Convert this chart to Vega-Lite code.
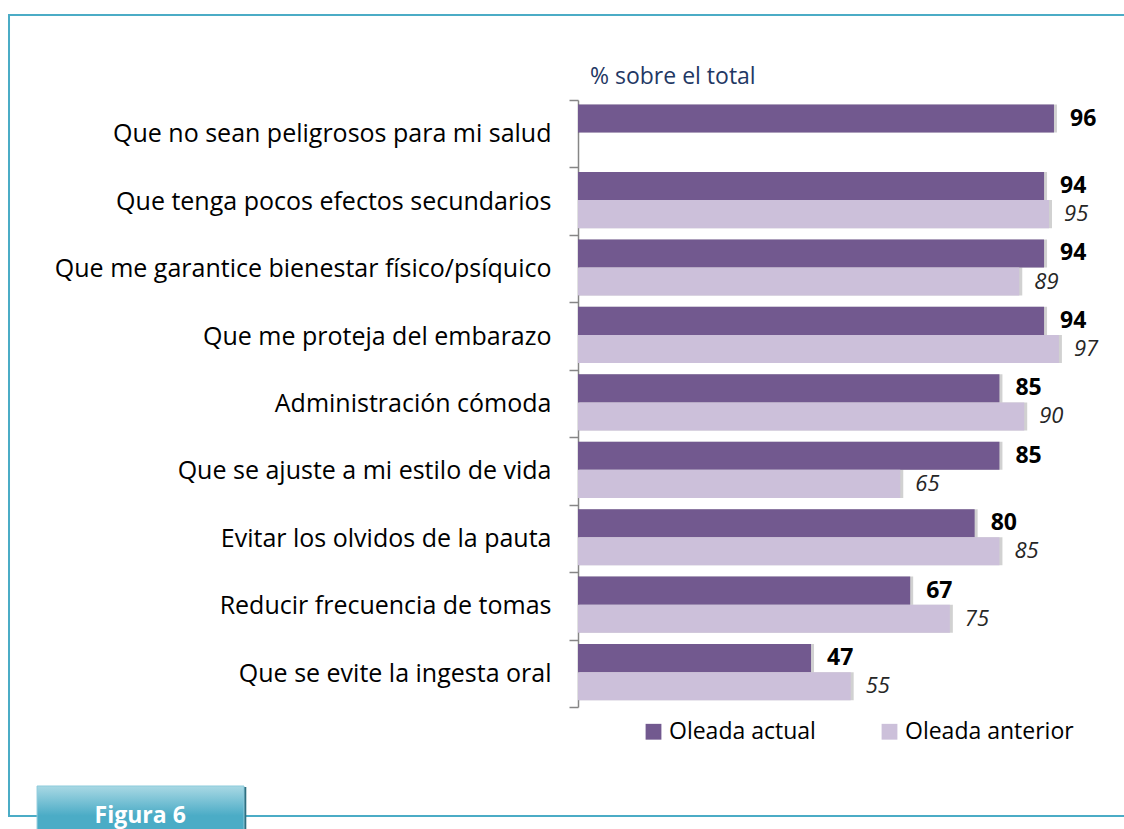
{
  "$schema": "https://vega.github.io/schema/vega-lite/v6.json",
  "width": 544,
  "height": 607,
  "autosize": "none",
  "padding": {"left": 578, "top": 100, "right": 2, "bottom": 122},
  "background": "white",
  "config": {
    "view": {"stroke": null},
    "font": "Open Sans"
  },
  "title": {
    "text": "% sobre el total",
    "anchor": "start",
    "frame": "group",
    "orient": "top",
    "dx": 12,
    "offset": -93,
    "baseline": "alphabetic",
    "fontSize": 23,
    "fontWeight": "normal",
    "font": "Open Sans",
    "color": "#1F3864"
  },
  "datasets": {
    "main": [
      {"cat": "Que no sean peligrosos para mi salud", "serie": "Oleada actual", "value": 96},
      {"cat": "Que tenga pocos efectos secundarios", "serie": "Oleada actual", "value": 94},
      {"cat": "Que tenga pocos efectos secundarios", "serie": "Oleada anterior", "value": 95},
      {"cat": "Que me garantice bienestar físico/psíquico", "serie": "Oleada actual", "value": 94},
      {"cat": "Que me garantice bienestar físico/psíquico", "serie": "Oleada anterior", "value": 89},
      {"cat": "Que me proteja del embarazo", "serie": "Oleada actual", "value": 94},
      {"cat": "Que me proteja del embarazo", "serie": "Oleada anterior", "value": 97},
      {"cat": "Administración cómoda", "serie": "Oleada actual", "value": 85},
      {"cat": "Administración cómoda", "serie": "Oleada anterior", "value": 90},
      {"cat": "Que se ajuste a mi estilo de vida", "serie": "Oleada actual", "value": 85},
      {"cat": "Que se ajuste a mi estilo de vida", "serie": "Oleada anterior", "value": 65},
      {"cat": "Evitar los olvidos de la pauta", "serie": "Oleada actual", "value": 80},
      {"cat": "Evitar los olvidos de la pauta", "serie": "Oleada anterior", "value": 85},
      {"cat": "Reducir frecuencia de tomas", "serie": "Oleada actual", "value": 67},
      {"cat": "Reducir frecuencia de tomas", "serie": "Oleada anterior", "value": 75},
      {"cat": "Que se evite la ingesta oral", "serie": "Oleada actual", "value": 47},
      {"cat": "Que se evite la ingesta oral", "serie": "Oleada anterior", "value": 55}
    ],
    "badge": [{"label": "Figura 6"}]
  },
  "layer": [
    {
      "data": {"name": "main"},
      "encoding": {
        "y": {
          "field": "cat",
          "type": "nominal",
          "sort": null,
          "scale": {"paddingInner": 0, "paddingOuter": 0},
          "axis": {
            "title": null,
            "orient": "left",
            "tickBand": "extent",
            "tickSize": 9,
            "tickColor": "#868686",
            "tickWidth": 1.5,
            "domainColor": "#868686",
            "domainWidth": 1.5,
            "labelPadding": 18,
            "labelFontSize": 25,
            "labelFont": "Open Sans",
            "labelColor": "#000000",
            "labelLimit": 700,
            "grid": false
          }
        },
        "yOffset": {
          "field": "serie",
          "type": "nominal",
          "sort": ["Oleada actual", "Oleada anterior"],
          "scale": {"paddingInner": 0, "paddingOuter": 0.2, "align": 0.4}
        },
        "x": {
          "field": "value",
          "type": "quantitative",
          "scale": {"domain": [0, 109.72], "nice": false, "zero": false},
          "axis": null
        }
      },
      "layer": [
        {
          "mark": {"type": "bar", "color": "#000000", "opacity": 0.18, "x2Offset": 3},
          "encoding": {
            "x": {"datum": 0, "type": "quantitative"},
            "x2": {"field": "value"}
          }
        },
        {
          "mark": {"type": "bar"},
          "encoding": {
            "x": {"datum": 0, "type": "quantitative"},
            "x2": {"field": "value"},
            "color": {
              "field": "serie",
              "type": "nominal",
              "sort": ["Oleada actual", "Oleada anterior"],
              "scale": {"domain": ["Oleada actual", "Oleada anterior"], "range": ["#72598F", "#CCC0DA"]},
              "legend": {
                "title": null,
                "orient": "none",
                "legendX": 64,
                "legendY": 620,
                "direction": "horizontal",
                "columnPadding": 62,
                "symbolType": "square",
                "symbolSize": 250,
                "symbolStrokeWidth": 0,
                "symbolOpacity": 1,
                "labelFontSize": 23,
                "labelFont": "Open Sans",
                "labelColor": "#000000",
                "labelOffset": 4,
                "labelLimit": 400
              }
            }
          }
        },
        {
          "transform": [{"filter": "datum.serie === 'Oleada actual'"}],
          "mark": {"type": "text", "align": "left", "dx": 16, "fontSize": 23, "fontWeight": "bold", "color": "#000000", "font": "Open Sans"},
          "encoding": {"text": {"field": "value", "type": "quantitative"}}
        },
        {
          "transform": [{"filter": "datum.serie === 'Oleada anterior'"}],
          "mark": {"type": "text", "align": "left", "dx": 15, "fontSize": 22, "fontStyle": "italic", "color": "#262626", "font": "Open Sans"},
          "encoding": {"text": {"field": "value", "type": "quantitative"}}
        }
      ]
    },
    {
      "data": {"name": "badge"},
      "layer": [
        {
          "mark": {"type": "rect", "fill": null, "fillOpacity": 0, "stroke": "#4BACC6", "strokeWidth": 2},
          "encoding": {
            "x": {"datum": -114.76, "type": "quantitative"},
            "x2": {"datum": 111.3},
            "y": {"datum": -85, "type": "quantitative", "scale": {"domain": [0, 607], "reverse": true, "nice": false, "zero": false}, "axis": null},
            "y2": {"datum": 716}
          }
        },
        {
          "mark": {"type": "rect", "color": "#2E6F80"},
          "encoding": {
            "x": {"datum": -108.6, "type": "quantitative"},
            "x2": {"datum": -66.9},
            "y": {"datum": 687, "type": "quantitative"},
            "y2": {"datum": 740}
          }
        },
        {
          "mark": {
            "type": "rect",
            "stroke": "#8CCBDB",
            "strokeWidth": 1,
            "color": {
              "gradient": "linear",
              "x1": 0, "y1": 0, "x2": 0, "y2": 1,
              "stops": [
                {"offset": 0, "color": "#A9D8E4"},
                {"offset": 0.55, "color": "#4BACC6"},
                {"offset": 1, "color": "#4BACC6"}
              ]
            }
          },
          "encoding": {
            "x": {"datum": -109.1, "type": "quantitative"},
            "x2": {"datum": -67.37},
            "y": {"datum": 686, "type": "quantitative"},
            "y2": {"datum": 740}
          }
        },
        {
          "mark": {"type": "text", "color": "white", "fontSize": 23, "fontWeight": "bold", "font": "Open Sans", "baseline": "middle"},
          "encoding": {
            "x": {"datum": -88.3, "type": "quantitative"},
            "y": {"datum": 716, "type": "quantitative"},
            "text": {"field": "label"}
          }
        }
      ]
    }
  ],
  "resolve": {"scale": {"y": "independent"}}
}
